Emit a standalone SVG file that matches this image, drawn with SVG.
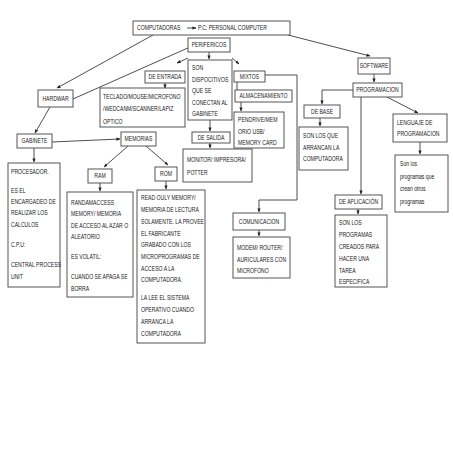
<svg xmlns="http://www.w3.org/2000/svg" width="453" height="453" viewBox="0 0 453 453">
<defs>
<marker id="ah" viewBox="0 0 10 10" refX="9" refY="5" markerWidth="4" markerHeight="4" markerUnits="userSpaceOnUse" orient="auto">
<path d="M0,1 L10,5 L0,9 z" fill="#222"/>
</marker>
</defs>
<style>
rect{fill:#fff;stroke:#555;stroke-width:1}
text{font-family:"Liberation Sans",Arial,sans-serif;font-size:6.4px;fill:#222;transform-box:fill-box;transform-origin:left center;transform:scaleX(0.8)}
.c{text-anchor:middle;transform-origin:center}
#connectors line,#connectors polyline{stroke:#222;stroke-width:0.8;fill:none;marker-end:url(#ah)}
#connectors .n{marker-end:none}
</style>
<rect x="0" y="0" width="453" height="453" style="fill:#fff;stroke:none"/>
<g id="connectors">
<line x1="153" y1="35" x2="57" y2="88"/>
<line class="n" x1="190" y1="47" x2="73" y2="99"/>
<line x1="288" y1="35" x2="370" y2="56"/>
<line x1="209" y1="52" x2="209" y2="59"/>
<line x1="188" y1="58" x2="177" y2="63"/>
<line x1="232" y1="58" x2="239" y2="64"/>
<line x1="165" y1="83" x2="165" y2="88"/>
<line class="n" x1="237" y1="82" x2="237" y2="90"/>
<line x1="241" y1="102" x2="241" y2="111"/>
<polyline points="265,75 297,75 297,200 259,200 259,212"/>
<line x1="210" y1="120" x2="210" y2="131"/>
<line x1="210" y1="143" x2="210" y2="148"/>
<line x1="259" y1="230" x2="259" y2="236"/>
<line x1="50" y1="107" x2="35" y2="133"/>
<line x1="34" y1="148" x2="34" y2="162"/>
<line x1="52" y1="142" x2="120" y2="139"/>
<line x1="128" y1="146" x2="104" y2="167"/>
<line x1="146" y1="146" x2="168" y2="165"/>
<line x1="100" y1="183" x2="100" y2="191"/>
<line x1="166" y1="181" x2="166" y2="189"/>
<line x1="374" y1="74" x2="374" y2="82"/>
<polyline points="353,90 322,90 322,104"/>
<line x1="361" y1="97" x2="361" y2="194"/>
<line x1="387" y1="97" x2="418" y2="113"/>
<line x1="320" y1="118" x2="320" y2="126"/>
<line x1="420" y1="142" x2="420" y2="154"/>
<line x1="358" y1="209" x2="358" y2="214"/>
</g>
<g id="computadoras">
<rect x="133" y="21" width="157" height="14"/>
<text x="137" y="30">COMPUTADORAS</text>
<line x1="187" y1="28" x2="196" y2="28" style="stroke:#222;stroke-width:0.8;marker-end:url(#ah)"/>
<text x="198" y="30">P.C: PERSONAL COMPUTER</text>
</g>
<g id="perifericos"><rect x="188" y="38" width="42" height="14"/><text class="c" x="209" y="47.5">PERIFERICOS</text></g>
<g id="de-entrada"><rect x="145" y="71" width="40" height="12"/><text class="c" x="165" y="79.5">DE ENTRADA</text></g>
<g id="son-dispositivos"><rect x="188" y="60" width="44" height="60"/>
<text x="192" y="70.5">SON</text><text x="192" y="82">DISPOCITIVOS</text><text x="192" y="93.5">QUE SE</text><text x="192" y="105">CONECTAN AL</text><text x="192" y="116.5">GABINETE</text></g>
<g id="mixtos"><rect x="234" y="71" width="31" height="11"/><text class="c" x="249.5" y="79">MIXTOS</text></g>
<g id="teclado"><rect x="100" y="88" width="85" height="39"/>
<text x="103" y="99.5">TECLADO/MOUSE/MICROFONO</text><text x="103" y="111.5">/WEDCANM/SCANNER/LAPIZ</text><text x="103" y="124">OPTICO</text></g>
<g id="almacenamiento"><rect x="235" y="90" width="57" height="12"/><text class="c" x="263.5" y="98.5">ALMACENAMIENTO</text></g>
<g id="pendrive"><rect x="234" y="112" width="50" height="36"/>
<text x="238" y="122.5">PENDRIVE/MEM</text><text x="238" y="134">ORIO USB/</text><text x="238" y="145.5">MEMORY CARD</text></g>
<g id="de-salida"><rect x="192" y="132" width="38" height="11"/><text class="c" x="211" y="140">DE SALIDA</text></g>
<g id="monitor"><rect x="183" y="149" width="69" height="33"/>
<text x="187" y="162.5">MONITOR/ IMPRESORA/</text><text x="187" y="175">POTTER</text></g>
<g id="comunicacion"><rect x="233" y="213" width="52" height="17"/><text class="c" x="259" y="224">COMUNICACION</text></g>
<g id="modem"><rect x="233" y="237" width="57" height="41"/>
<text x="237" y="250.5">MODEM/ ROUTER/</text><text x="237" y="262">AURICULARES CON</text><text x="237" y="273.5">MICROFONO</text></g>
<g id="hardwar"><rect x="38" y="90" width="35" height="17"/><text class="c" x="55.5" y="101">HARDWAR</text></g>
<g id="gabinete"><rect x="17" y="134" width="35" height="14"/><text class="c" x="34.5" y="143.5">GABINETE</text></g>
<g id="memorias"><rect x="121" y="132" width="35" height="14"/><text class="c" x="138.5" y="141.5">MEMORIAS</text></g>
<g id="ram"><rect x="88" y="169" width="24" height="14"/><text class="c" x="100" y="178.5">RAM</text></g>
<g id="rom"><rect x="155" y="167" width="22" height="14"/><text class="c" x="166" y="176.5">ROM</text></g>
<g id="procesador"><rect x="8" y="163" width="52" height="124"/>
<text x="11" y="174.5">PROCESADOR.</text><text x="11" y="193.5">ES EL</text><text x="11" y="204.5">ENCARGADEO DE</text><text x="11" y="215.5">REALIZAR LOS</text><text x="11" y="227">CALCULOS</text><text x="11" y="247.5">C.P.U:</text><text x="11" y="267.5">CENTRAL PROCESS</text><text x="11" y="279">UNIT</text></g>
<g id="randam"><rect x="67" y="192" width="66" height="105"/>
<text x="71" y="205.5">RANDAMACCESS</text><text x="71" y="216.5">MEMORY/ MEMORIA</text><text x="71" y="228">DE ACCESO AL AZAR O</text><text x="71" y="239.5">ALEATORIO</text><text x="71" y="259.5">ES VOLATIL:</text><text x="71" y="279.5">CUANDO SE APAGA SE</text><text x="71" y="291">BORRA</text></g>
<g id="read"><rect x="137" y="190" width="68" height="153"/>
<text x="141" y="200.5">READ OULY MEMORY/</text><text x="141" y="212.2">MEMORIA DE LECTURA</text><text x="141" y="223.9">SOLAMENTE. LA PROVEE</text><text x="141" y="235.6">EL FABRICANTE</text><text x="141" y="247.3">GRABADO CON LOS</text><text x="141" y="259">MICROPROGRAMAS DE</text><text x="141" y="270.7">ACCESO A LA</text><text x="141" y="282.4">COMPUTADORA.</text><text x="141" y="300.5">LA LEE EL SISTEMA</text><text x="141" y="312.3">OPERATIVO CUANDO</text><text x="141" y="324">ARRANCA LA</text><text x="141" y="335.7">COMPUTADORA</text></g>
<g id="software"><rect x="358" y="58" width="32" height="16"/><text class="c" x="374" y="68.5">SOFTWARE</text></g>
<g id="programacion"><rect x="353" y="83" width="49" height="14"/><text class="c" x="377.5" y="92.5">PROGRAMACION</text></g>
<g id="de-base"><rect x="304" y="105" width="36" height="13"/><text class="c" x="322" y="114">DE BASE</text></g>
<g id="son-los-que"><rect x="299" y="127" width="49" height="43"/>
<text x="303" y="138.5">SON LOS QUE</text><text x="303" y="150">ARRANCAN LA</text><text x="303" y="161.5">COMPUTADORA</text></g>
<g id="lenguaje"><rect x="393" y="114" width="54" height="28"/>
<text x="397" y="125.5">LENGUAJE DE</text><text x="397" y="136.5">PROGRAMACION</text></g>
<g id="son-los-programas-que"><rect x="395" y="155" width="53" height="57"/>
<text x="400" y="166.5">Son los</text><text x="400" y="179">programas  que</text><text x="400" y="191.5">crean otros</text><text x="400" y="204">programas</text></g>
<g id="de-aplicacion"><rect x="335" y="195" width="47" height="14"/><text class="c" x="358.5" y="204.5">DE APLICACIÓN</text></g>
<g id="son-los-programas"><rect x="335" y="215" width="52" height="72"/>
<text x="339" y="225.5">SON LOS</text><text x="339" y="237.3">PROGRAMAS</text><text x="339" y="249.1">CREADOS PARA</text><text x="339" y="260.9">HACER UNA</text><text x="339" y="272.7">TAREA</text><text x="339" y="284.5">ESPECIFICA</text></g>
</svg>
